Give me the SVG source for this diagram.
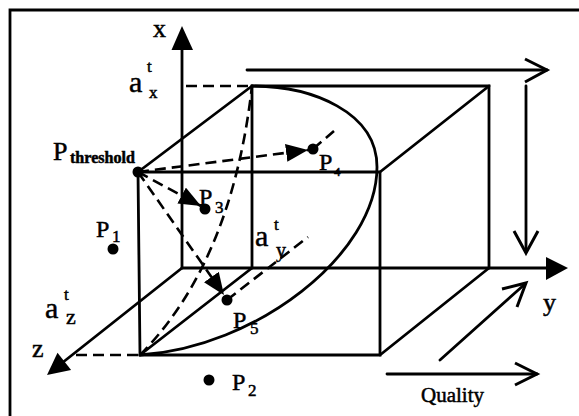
<svg xmlns="http://www.w3.org/2000/svg" width="579" height="416" viewBox="0 0 579 416">
<defs>
<style>
.ln{fill:none;stroke:#000;stroke-width:2.8;stroke-linecap:round}
.ds{fill:none;stroke:#000;stroke-width:2.6;stroke-dasharray:11 6}
.hd{fill:#000;stroke:none}
.dot{fill:#000}
.t{font-family:"Liberation Serif","Times New Roman",serif;fill:#000;stroke:#000;stroke-width:0.5}
.big{font-size:24px}
.a{font-size:30px}
.sub{font-size:17px}
.sup{font-size:17px}
.op{fill:none;stroke:#000;stroke-width:3;stroke-linejoin:miter}
</style>
<marker id="fa" viewBox="0 0 22 18" refX="22" refY="9" markerWidth="22" markerHeight="18" markerUnits="userSpaceOnUse" orient="auto">
<path d="M0,0 L22,9 L0,18 Z" fill="#000"/>
</marker>
</defs>

<g id="frame"><path class="ln" d="M10,416 V10 H579" stroke-width="2.8"/></g>

<g id="connectors">
<!-- axes -->
<path class="ln" d="M182,268 V48"/>
<path class="hd" d="M182,26 L171.5,50 L193,50 Z"/>
<path class="ln" d="M182,268 H547"/>
<path class="hd" d="M568,268 L546,257 L546,280 Z"/>
<path class="ln" d="M182,268 L62,363"/>
<path class="hd" d="M47,375 L57.5,352.7 L71.1,369.9 Z"/>
<!-- box -->
<path class="ln" d="M138,172 H380 V355 H140 Z"/>
<path class="ln" d="M252,268 V86 H489 V268"/>
<path class="ln" d="M138,172 L252,86 M380,172 L489,86 M380,355 L489,268 M140,355 L252,268"/>
<!-- dashed guides -->
<path class="ds" d="M186,86 H252"/>
<path class="ds" d="M76,355 H140"/>
<path class="ds" d="M140,355 Q232,262 252,86"/>
<!-- surface curve -->
<path class="ln" d="M252,86 C312,86 377,112 377,167 C377,255 255,348 140,355"/>
<!-- arrows from threshold -->
<path class="ds" d="M138,172 L308,150" marker-end="url(#fa)"/>
<path class="ds" d="M138,172 L201,206" marker-end="url(#fa)"/>
<path class="ds" d="M138,172 L224,295" marker-end="url(#fa)"/>
<!-- depth guides -->
<path class="ds" d="M313,149 L334,131"/>
<path class="ds" d="M227,300 L308,237"/>
<!-- preference arrows -->
<path class="ln" d="M247,70 H547"/>
<path class="op" d="M525,59 L547,70 L525,82"/>
<path class="ln" d="M526,86 V252"/>
<path class="op" d="M514,231 L526,253 L538,231"/>
<path class="ln" d="M440,360 L525,284"/>
<path class="op" d="M502,289 L526,283 L517,307"/>
<path class="ln" d="M387,374 H537"/>
<path class="op" d="M515,363 L537,374 L515,385"/>
</g>

<g id="axis-labels">
<text class="t" x="153" y="37" font-size="26">x</text>
<text class="t" x="543" y="311" font-size="26">y</text>
<text class="t" x="32" y="357" font-size="26">z</text>
</g>

<g id="thresholds">
<g id="atx"><text class="t a" x="129" y="92">a</text><text class="t sup" x="147" y="72">t</text><text class="t sub" x="149" y="98" font-size="22">x</text></g>
<g id="aty"><text class="t a" x="255" y="246">a</text><text class="t sup" x="274" y="230">t</text><text class="t" x="276" y="257" font-size="20">y</text></g>
<g id="atz"><text class="t a" x="45" y="318">a</text><text class="t sup" x="64" y="300">t</text><text class="t" x="66" y="324" font-size="22">z</text></g>
</g>

<g id="p-threshold">
<circle class="dot" cx="138" cy="172" r="5.5"/>
<text class="t" x="53" y="160" font-size="26">P</text>
<text class="t" x="70" y="163" font-size="16" font-weight="bold" textLength="65" lengthAdjust="spacingAndGlyphs">threshold</text>
</g>
<g id="p1"><circle class="dot" cx="113" cy="249" r="5.5"/><text class="t big" x="96" y="237">P</text><text class="t sub" x="112" y="242">1</text></g>
<g id="p2"><circle class="dot" cx="209" cy="380" r="5.5"/><text class="t big" x="232" y="390">P</text><text class="t sub" x="248" y="396">2</text></g>
<g id="p3"><circle class="dot" cx="205" cy="209" r="5.5"/><text class="t big" x="199" y="205">P</text><text class="t sub" x="215" y="213">3</text></g>
<g id="p4"><circle class="dot" cx="313" cy="149" r="5.5"/><text class="t big" x="319" y="170">P</text><text class="t" x="334" y="176" font-size="13">4</text></g>
<g id="p5"><circle class="dot" cx="227" cy="300" r="5.5"/><text class="t big" x="233" y="328">P</text><text class="t sub" x="250" y="334">5</text></g>

<g id="quality"><text class="t" x="421" y="402" font-size="21">Quality</text></g>
</svg>
